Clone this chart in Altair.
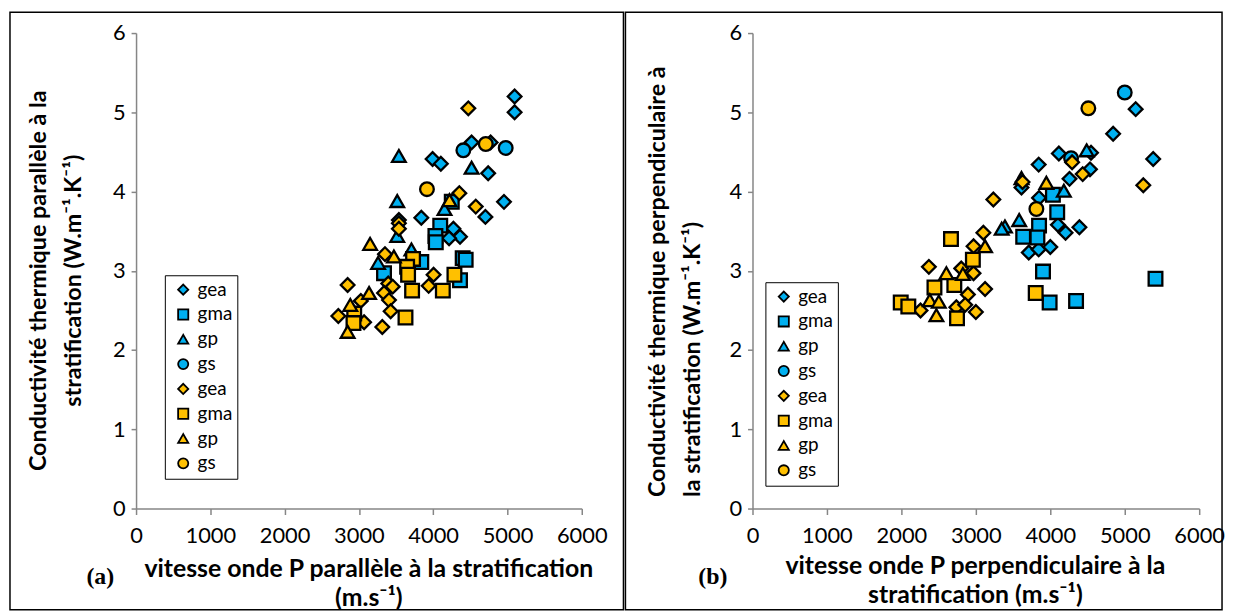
import altair as alt
import pandas as pd

# ---------------- data ----------------
series_keys = ["b_gea", "b_gma", "b_gp", "b_gs", "y_gea", "y_gma", "y_gp", "y_gs"]
series_colors = ["#00B0F0"] * 4 + ["#FFC000"] * 4
series_shapes = ["diamond", "square", "triangle-up", "circle"] * 2

x_ticks = [0, 1000, 2000, 3000, 4000, 5000, 6000]
y_ticks = [0, 1, 2, 3, 4, 5, 6]

# panel (a): (vitesse P parallele, conductivite parallele)
a_blue_gea = [(5096, 5.20), (5096, 5.00), (4517, 4.62), (4773, 4.62), (3992, 4.41), (4103, 4.35),
              (4740, 4.23), (4953, 3.87), (4703, 3.68), (3840, 3.67), (3538, 3.64), (4272, 3.53),
              (4361, 3.43), (4214, 3.41)]
a_blue_gma = [(4250, 3.87), (4095, 3.57), (4030, 3.44), (4035, 3.36), (3840, 3.11), (4397, 3.16),
              (4437, 3.14), (3338, 2.97), (4361, 2.88)]
a_blue_gp = [(3538, 4.45), (4517, 4.30), (3516, 3.88), (4152, 3.78), (3516, 3.44), (3707, 3.27),
             (3258, 3.10)]
a_blue_gs = [(4406, 4.52), (4976, 4.55)]
a_yel_gea = [(4473, 5.05), (4352, 3.98), (4573, 3.81), (3538, 3.60), (3538, 3.53), (3351, 3.21),
             (4005, 2.95), (2848, 2.82), (3395, 2.84), (3455, 2.80), (3939, 2.81), (3338, 2.72),
             (3026, 2.62), (3405, 2.63), (3427, 2.49), (2723, 2.43), (3070, 2.35), (3315, 2.29)]
a_yel_gma = [(3729, 3.15), (3649, 3.05), (3662, 2.95), (4286, 2.95), (3716, 2.75), (4130, 2.75),
             (3627, 2.41), (2937, 2.46), (2927, 2.34)]
a_yel_gp = [(4219, 3.89), (3151, 3.34), (3471, 3.18), (3137, 2.72), (2884, 2.57), (2848, 2.23)]
a_yel_gs = [(4708, 4.60), (3916, 4.03)]

# panel (b): (vitesse P perpendiculaire, conductivite perpendiculaire)
b_blue_gea = [(5147, 5.04), (4844, 4.73), (5382, 4.41), (4547, 4.49), (4115, 4.48), (3844, 4.34),
              (4533, 4.28), (4258, 4.16), (3613, 4.05), (3849, 3.92), (4102, 3.58), (4205, 3.48),
              (4391, 3.55), (3711, 3.23), (3844, 3.27), (4000, 3.30)]
b_blue_gma = [(4035, 3.96), (4093, 3.74), (3849, 3.57), (3636, 3.43), (3827, 3.42), (3902, 2.99),
              (4346, 2.62), (3991, 2.60), (5413, 2.90)]
b_blue_gp = [(4489, 4.52), (3613, 4.17), (4182, 4.01), (3391, 3.56), (3582, 3.64), (3347, 3.53)]
b_blue_gs = [(5000, 5.25), (4279, 4.42)]
b_yel_gea = [(5249, 4.08), (4293, 4.37), (4435, 4.22), (3627, 4.12), (3235, 3.90), (3101, 3.48),
             (2969, 3.31), (2369, 3.05), (2804, 3.03), (2969, 2.97), (3124, 2.77), (2893, 2.70),
             (2257, 2.50), (2738, 2.54), (2857, 2.57), (3000, 2.48)]
b_yel_gma = [(2666, 3.40), (2960, 3.14), (2444, 2.79), (2711, 2.82), (3804, 2.72), (1991, 2.60),
             (2093, 2.55), (2747, 2.40)]
b_yel_gp = [(3947, 4.11), (3124, 3.31), (2604, 2.97), (2826, 2.96), (2382, 2.63), (2502, 2.61),
            (2470, 2.44)]
b_yel_gs = [(4511, 5.05), (3813, 3.78)]

panel_a = [a_blue_gea, a_blue_gma, a_blue_gp, a_blue_gs, a_yel_gea, a_yel_gma, a_yel_gp, a_yel_gs]
panel_b = [b_blue_gea, b_blue_gma, b_blue_gp, b_blue_gs, b_yel_gea, b_yel_gma, b_yel_gp, b_yel_gs]


def to_df(groups):
    rows = []
    i = 0
    for key, pts in zip(series_keys, groups):
        for vx, vy in pts:
            rows.append({"serie": key, "vp": vx, "k": vy, "idx": i})
            i += 1
    return pd.DataFrame(rows)


one = pd.DataFrame({"z": [0]})
FONT = "Lato"


def panel(df, W, H, xtitle, xt_x, xt_y, ytitle, yt_x, yt_y, yt_align, legx, legy,
          box, tag, tag_x, tag_y):
    legend = alt.Legend(
        title=None, orient="none", legendX=legx, legendY=legy,
        labelExpr="substring(datum.label, 2, 10) + ' '",
        labelFont=FONT, labelFontSize=19, labelColor="black",
        symbolSize=105, symbolStrokeColor="black", symbolStrokeWidth=1.8,
        rowPadding=5, padding=5, symbolOffset=4, labelOffset=5,
        strokeColor="black", fillColor="white",
    )
    xaxis = alt.Axis(
        values=x_ticks, format="d", grid=False, labelFlush=False, labelOverlap=False,
        domainColor="#868686", domainWidth=1.5, tickColor="#868686", tickWidth=1.5, tickSize=6,
        labelFont=FONT, labelFontSize=22, labelColor="black", labelPadding=11,
        title=xtitle, titleFont=FONT, titleFontSize=25, titleFontWeight="bold", titleColor="black",
        titleX=xt_x, titleY=xt_y, titleAngle=0, titleAlign="center", titleBaseline="alphabetic",
        titleLineHeight=30,
    )
    yaxis = alt.Axis(
        values=y_ticks, format="d", grid=False, labelFlush=False, labelOverlap=False,
        domainColor="#868686", domainWidth=1.5, tickColor="#868686", tickWidth=1.5, tickSize=5,
        labelFont=FONT, labelFontSize=22, labelColor="black", labelPadding=6,
        title=ytitle, titleFont=FONT, titleFontSize=23.5, titleFontWeight="bold", titleColor="black",
        titleX=yt_x, titleY=yt_y, titleAngle=-90, titleAlign=yt_align, titleBaseline="alphabetic",
        titleLineHeight=35.5,
    )
    pts = alt.Chart(df).mark_point(
        filled=True, stroke="black", strokeWidth=2.3, size=190, opacity=1
    ).encode(
        x=alt.X("vp:Q", scale=alt.Scale(domain=[0, 6000], nice=False), axis=xaxis),
        y=alt.Y("k:Q", scale=alt.Scale(domain=[0, 6], nice=False), axis=yaxis),
        color=alt.Color("serie:N", scale=alt.Scale(domain=series_keys, range=series_colors),
                        legend=legend),
        shape=alt.Shape("serie:N", scale=alt.Scale(domain=series_keys, range=series_shapes),
                        legend=legend),
        order=alt.Order("idx:Q"),
    )
    frame = alt.Chart(one).mark_rect(filled=False, stroke="black", strokeWidth=1.5).encode(
        x=alt.value(box[0]), x2=alt.value(box[1]), y=alt.value(box[2]), y2=alt.value(box[3])
    )
    label = alt.Chart(one).mark_text(
        text=tag, font="Liberation Serif", fontSize=24, fontWeight="bold",
        align="center", baseline="middle", color="black"
    ).encode(x=alt.value(tag_x), y=alt.value(tag_y))
    return alt.layer(frame, pts, label).properties(width=W, height=H)


left = panel(
    to_df(panel_a), 449, 479,
    ["vitesse onde P parallèle à la stratification", "(m.s\u207b\u00b9)"], 234, 68,
    ["Conductivité thermique parallèle à la", "stratification (W.m\u207b\u00b9.K\u207b\u00b9)"],
    -91, 249, "center",
    29, 244,
    (-127, 491, -21, 581), "(a)", -36, 548,
)
right = panel(
    to_df(panel_b), 450, 479,
    ["vitesse onde P perpendiculaire à la", "stratification (m.s\u207b\u00b9)"], 224, 65,
    ["Conductivité thermique perpendiculaire à", "la stratification (W.m\u207b\u00b9.K\u207b\u00b9)"],
    -89, 467, "left",
    13, 251,
    (-128, 473, -21, 581), "(b)", -40, 548,
)

chart = (
    alt.hconcat(left, right)
    .resolve_scale(color="independent", shape="independent")
    .resolve_legend(color="independent", shape="independent")
    .properties(padding=0)
    .configure_concat(spacing=-2)
    .configure_view(stroke="transparent")
)

chart.save("out.html", embed_options={"renderer": "svg", "actions": False})
